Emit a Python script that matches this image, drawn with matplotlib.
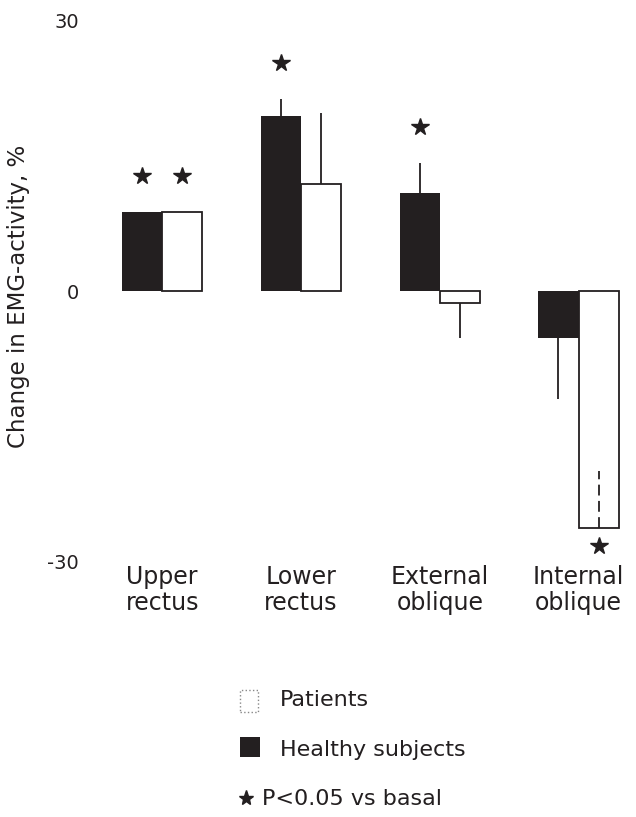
import matplotlib
matplotlib.use("Agg")
import matplotlib.pyplot as plt
from matplotlib.patches import Rectangle
from matplotlib.lines import Line2D

# EMG change per muscle, % (healthy subjects vs patients)
muscles = ["Upper\nrectus", "Lower\nrectus", "External\noblique", "Internal\noblique"]
healthy = [8.8, 19.4, 10.9, -5.2]
healthy_err_up = [0, 1.9, 3.3, 0]
healthy_err_down = [0, 0, 0, 6.8]
patients = [8.8, 11.9, -1.3, -26.3]
patients_err_up = [0, 7.9, 0, 6.3]
patients_err_down = [0, 0, 3.9, 0]
# P<0.05 vs basal
healthy_sig = [True, True, True, False]
patients_sig = [True, False, False, True]

plt.rcParams['font.family'] = ['DejaVu Sans']
plt.rcParams['axes.unicode_minus'] = False
ink = '#231f20'

fig = plt.figure(figsize=(6.36, 8.17), dpi=100)
ax = fig.add_axes([0.1415, 0.3133, 0.849, 0.661])

x = list(range(len(muscles)))
w = 0.29
xh = [i - w / 2 for i in x]
xp = [i + w / 2 for i in x]

ax.bar(xh, healthy, width=w, color=ink, edgecolor='none', zorder=2)
ax.bar(xp, patients, width=w, color='white', edgecolor=ink, linewidth=1.3, zorder=2)

# one-sided error bars, no caps
ax.vlines(xh, [v - d for v, d in zip(healthy, healthy_err_down)],
          [v + u for v, u in zip(healthy, healthy_err_up)], color=ink, lw=1.3, zorder=3)
ax.vlines(xp, [v - d for v, d in zip(patients, patients_err_down)],
          [v + u for v, u in zip(patients, patients_err_up)], color=ink, lw=1.3,
          linestyles=['-', '-', '-', (0, (6, 3))], zorder=3)

# significance stars just beyond the bar/error end
gap = 4.0
for xs, vals, up, down, sig in [(xh, healthy, healthy_err_up, healthy_err_down, healthy_sig),
                                (xp, patients, patients_err_up, patients_err_down, patients_sig)]:
    for xi, v, u, d, s in zip(xs, vals, up, down, sig):
        if not s:
            continue
        if v >= 0:
            ys = v + u + gap
        else:
            ys = v - d - 2.0
        ax.plot(xi, ys, marker='*', ms=13, color=ink, mec=ink, zorder=4)

ax.set_xlim(-0.52, 3.37)
ax.set_ylim(-30, 30)
ax.set_yticks([-30, 0, 30])
ax.set_xticks(x, muscles)
ax.tick_params(axis='y', length=0, pad=8, labelsize=14, colors=ink)
ax.tick_params(axis='x', length=0, pad=3, labelsize=17, colors=ink)
for lbl in ax.get_xticklabels():
    lbl.set_linespacing(1.1)
for s in ax.spines.values():
    s.set_visible(False)

ax.set_ylabel("Change in EMG-activity, %", fontsize=16.5, color=ink)
ax.yaxis.set_label_coords(-0.111, 0.49)

# legend below the chart
W, H = 636.0, 817.0
fig.add_artist(Rectangle((240 / W, 1 - 712 / H), 18 / W, 22 / H, transform=fig.transFigure,
                         facecolor='white', edgecolor='#888888', lw=1.0, linestyle=':'))
fig.add_artist(Rectangle((240 / W, 1 - 757 / H), 20 / W, 20 / H, transform=fig.transFigure,
                         facecolor=ink, edgecolor='none'))
fig.add_artist(Line2D([246 / W], [1 - 798 / H], transform=fig.transFigure,
                      marker='*', ms=11, color=ink))
fig.text(280 / W, 1 - 700 / H, "Patients", fontsize=16, va='center', color=ink)
fig.text(280 / W, 1 - 750 / H, "Healthy subjects", fontsize=16, va='center', color=ink)
fig.text(262 / W, 1 - 799 / H, "P<0.05 vs basal", fontsize=16, va='center', color=ink)

fig.savefig("out.png", dpi=100)
